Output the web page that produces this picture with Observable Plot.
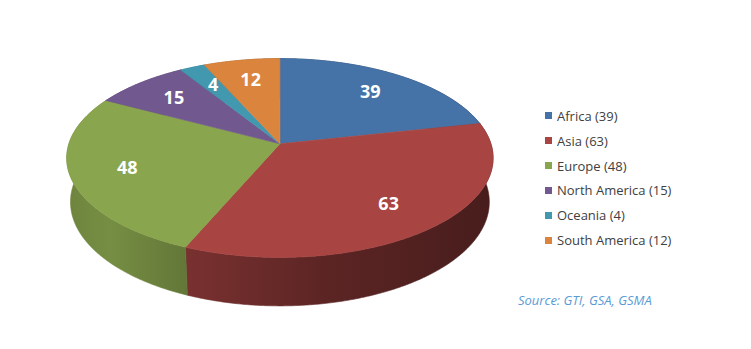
<!DOCTYPE html>
<html><head><meta charset="utf-8">
<script src="https://cdn.jsdelivr.net/npm/d3@7"></script>
<script src="https://cdn.jsdelivr.net/npm/@observablehq/plot@0.6"></script>
<style>
body{margin:0;background:#fff;}
#wrap{position:relative;width:751px;height:349px;font-family:"Open Sans",sans-serif;overflow:hidden;}
#wrap svg{position:absolute;left:0;top:0;}
.leg{position:absolute;left:545px;font-size:13px;color:#404040;line-height:16px;height:16px;white-space:nowrap;display:flex;align-items:center;}
.sw{width:7px;height:7px;margin-right:5px;display:inline-block;}
#src{position:absolute;left:518px;top:291px;font-size:13px;font-style:italic;color:#5B9BD5;white-space:nowrap;}
</style></head><body><div id="wrap"></div>
<script>
const regions = ["Africa", "Asia", "Europe", "North America", "Oceania", "South America"];
const counts = [39, 63, 48, 15, 4, 12];
const colors = ["#4572A7", "#A84442", "#89A54E", "#71588F", "#4198AF", "#DB843D"];
const sourceText = "Source: GTI, GSA, GSMA";

// 3D perspective geometry
const W = 751, H = 349;
const d = 6.2, s = 0.4616, c = Math.sqrt(1 - s * s), h = 0.237;
const cxPx = 279.4, cyPx = 143.3, unit = 211;
function proj(X, Y, Z) {
  const D = d - Y * s + Z * c;
  return {x: X * d / D, y: (Y * c + Z * s) * d / D};
}
const total = d3.sum(counts);
const slices = regions.map((name, i) => {
  const a0 = d3.sum(counts.slice(0, i)) / total * 2 * Math.PI;
  const a1 = a0 + counts[i] / total * 2 * Math.PI;
  return {name, value: counts[i], color: colors[i], a0, a1, i};
});
function arc(a0, a1, Y, r = 1) {
  const n = Math.max(2, Math.ceil((a1 - a0) / (Math.PI / 360)));
  const pts = [];
  for (let k = 0; k <= n; k++) {
    const t = a0 + (a1 - a0) * k / n;
    pts.push(proj(r * Math.sin(t), Y, r * Math.cos(t)));
  }
  return pts;
}
const full = arc(0, 2 * Math.PI, 0).concat(arc(0, 2 * Math.PI, -h));
const gx0 = cxPx + unit * d3.min(full, p => p.x), gx1 = cxPx + unit * d3.max(full, p => p.x);

const marks = [];
// side walls
for (const sl of slices) {
  const pts = arc(sl.a0, sl.a1, 0).concat(arc(sl.a0, sl.a1, -h).reverse());
  pts.push(pts[0]);
  marks.push(Plot.line(pts, {x: "x", y: "y", fill: `url(#side${sl.i})`, stroke: `url(#side${sl.i})`, strokeWidth: 0.6, curve: "linear"}));
}
// top faces
for (const sl of slices) {
  const apex = proj(0, 0, 0);
  const pts = [apex, ...arc(sl.a0, sl.a1, 0), apex];
  marks.push(Plot.line(pts, {x: "x", y: "y", fill: sl.color, stroke: sl.color, strokeWidth: 0.6, curve: "linear"}));
}
// labels
const labels = slices.map(sl => {
  const m = (sl.a0 + sl.a1) / 2, r = 0.74;
  const p = proj(r * Math.sin(m), 0, r * Math.cos(m));
  return {x: p.x, y: p.y, text: String(sl.value)};
});
marks.push(Plot.text(labels, {x: "x", y: "y", text: "text", fill: "white", fontSize: 18, fontWeight: "bold", fontFamily: "Open Sans"}));

const chart = Plot.plot({
  width: W, height: H, margin: 0,
  x: {domain: [-cxPx / unit, (W - cxPx) / unit], axis: null},
  y: {domain: [(cyPx - H) / unit, cyPx / unit], axis: null},
  marks
});
// gradients for the shaded sides
const defs = d3.select(chart).insert("defs", ":first-child");
const stops = [[0, 0.8], [0.1, 0.86], [0.28, 0.72], [0.6, 0.55], [1, 0.42]];
slices.forEach(sl => {
  const g = defs.append("linearGradient").attr("id", `side${sl.i}`).attr("gradientUnits", "userSpaceOnUse")
    .attr("x1", gx0).attr("x2", gx1).attr("y1", 0).attr("y2", 0);
  const base = d3.rgb(sl.color);
  for (const [o, f] of stops) {
    g.append("stop").attr("offset", o).attr("stop-color", d3.rgb(base.r * f, base.g * f, base.b * f).formatHex());
  }
});
const wrap = document.getElementById("wrap");
wrap.appendChild(chart);

regions.forEach((name, i) => {
  const row = document.createElement("div");
  row.className = "leg";
  row.style.top = (115.7 + i * 24.9 - 8) + "px";
  const sw = document.createElement("span");
  sw.className = "sw";
  sw.style.background = colors[i];
  row.appendChild(sw);
  row.appendChild(document.createTextNode(`${name} (${counts[i]})`));
  wrap.appendChild(row);
});
const src = document.createElement("div");
src.id = "src";
src.textContent = sourceText;
wrap.appendChild(src);
</script></body></html>
